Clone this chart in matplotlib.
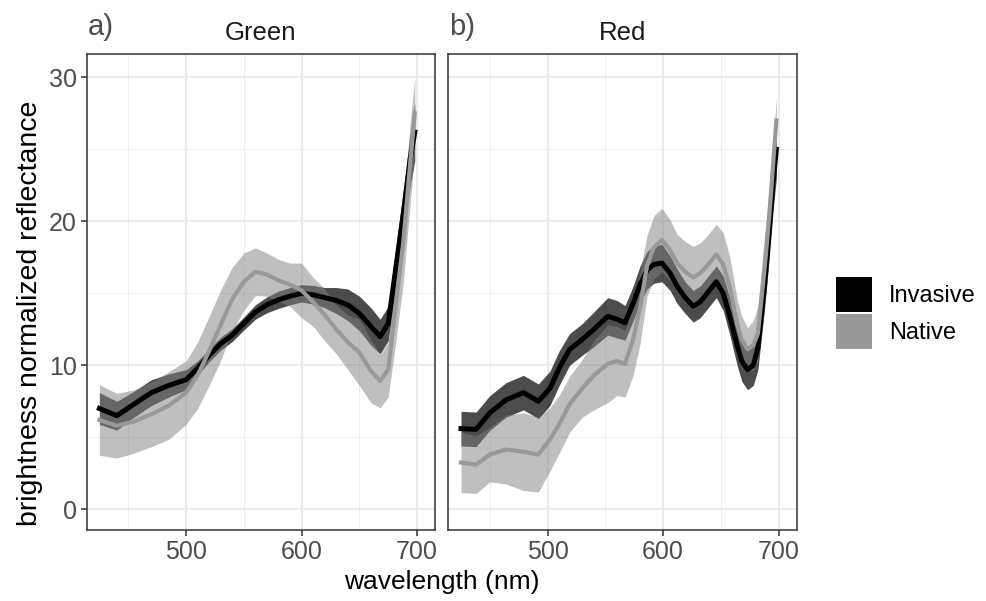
import matplotlib
matplotlib.use("Agg")
import matplotlib.pyplot as plt
from matplotlib.patches import Patch
import numpy as np

plt.rcParams['font.family'] = ['Liberation Sans', 'DejaVu Sans']

# --- Dados: painel Green ---
wl_green = [425, 440, 455, 470, 485, 500, 510, 520, 530, 540, 550, 560, 570, 580,
            590, 600, 610, 620, 630, 640, 650, 660, 668, 675, 682, 688, 694, 698]
inv_green_mean = [7.0, 6.5, 7.3, 8.1, 8.6, 9.0, 9.8, 10.7, 11.5, 12.1, 12.9, 13.7, 14.2, 14.55,
                  14.8, 15.0, 14.9, 14.7, 14.5, 14.2, 13.6, 12.7, 12.0, 12.9, 17.0, 20.5, 24.3, 26.2]
inv_green_sd = [1.1, 1.0, 0.9, 0.9, 0.8, 0.7, 0.5, 0.45, 0.45, 0.45, 0.45, 0.5, 0.55, 0.6,
                0.6, 0.6, 0.65, 0.7, 0.9, 1.1, 1.2, 1.3, 1.2, 1.2, 1.4, 1.6, 1.8, 2.0]
nat_green_mean = [6.2, 5.8, 6.1, 6.6, 7.2, 8.1, 9.3, 11.0, 12.8, 14.6, 15.8, 16.5, 16.3, 15.9,
                  15.6, 15.2, 14.4, 13.5, 12.5, 11.6, 10.9, 9.6, 8.9, 9.7, 14.5, 18.5, 24.0, 27.5]
nat_green_sd = [2.45, 2.25, 2.2, 2.25, 2.35, 2.2, 2.3, 2.4, 2.45, 2.2, 2.0, 1.65, 1.5, 1.45,
                1.5, 1.9, 1.7, 1.8, 1.7, 1.9, 2.3, 2.2, 1.85, 1.9, 2.6, 2.8, 2.8, 2.5]

# --- Dados: painel Red ---
wl_red = [425, 438, 450, 464, 479, 492, 502, 510, 519, 530, 540, 552, 560, 567, 574, 580, 586,
          592, 599, 606, 612, 619, 626, 632, 638, 646, 652, 658, 664, 668, 673, 678, 682,
          688, 692, 695, 698]
inv_red_mean = [5.6, 5.55, 6.7, 7.6, 8.1, 7.5, 8.4, 9.8, 11.1, 11.8, 12.5, 13.4, 13.2, 12.95,
                14.3, 15.6, 16.6, 17.0, 17.1, 16.4, 15.5, 14.7, 14.1, 14.4, 15.0, 15.8, 15.0,
                13.3, 11.4, 10.3, 9.7, 10.0, 11.2, 15.7, 19.5, 22.6, 25.0]
inv_red_sd = [1.2, 1.2, 1.2, 1.2, 1.2, 1.2, 1.2, 1.2, 1.1, 1.1, 1.2, 1.3, 1.3, 1.2, 1.2, 1.3,
              1.3, 1.3, 1.3, 1.2, 1.2, 1.1, 1.1, 1.1, 1.1, 1.1, 1.2, 1.3, 1.4, 1.4, 1.4, 1.4,
              1.5, 1.6, 1.8, 2.0, 2.0]
nat_red_mean = [3.25, 3.1, 3.8, 4.15, 4.0, 3.8, 4.85, 5.9, 7.3, 8.4, 9.3, 10.1, 10.3, 10.1,
                11.8, 14.0, 16.9, 18.2, 18.7, 18.0, 17.1, 16.5, 16.1, 16.4, 16.9, 17.7, 17.0,
                15.3, 12.9, 11.8, 11.1, 11.4, 12.2, 16.9, 20.5, 23.8, 27.0]
nat_red_sd = [2.1, 2.0, 1.9, 2.4, 2.7, 2.6, 2.2, 2.0, 1.95, 2.0, 2.4, 2.7, 2.4, 2.3, 2.5, 2.5,
              2.1, 2.2, 2.2, 2.1, 2.0, 2.1, 2.15, 2.1, 2.1, 2.1, 2.2, 2.1, 1.7, 1.6, 1.5, 1.7,
              1.9, 2.3, 2.0, 1.6, 1.6]

paineis = [
    ("Green", "a)", wl_green, inv_green_mean, inv_green_sd, nat_green_mean, nat_green_sd),
    ("Red", "b)", wl_red, inv_red_mean, inv_red_sd, nat_red_mean, nat_red_sd),
]

fig = plt.figure(figsize=(9.86, 6.01), dpi=100)
W, H = 986, 601

lefts = [86.7, 448.3]
top, bottom, width = 54.3, 530, 348.3

for i, (titulo, tag, wl, im, isd, nm, nsd) in enumerate(paineis):
    ax = fig.add_axes([lefts[i] / W, (H - bottom) / H, width / W, (bottom - top) / H])
    wl = np.array(wl)
    im, isd, nm, nsd = map(np.array, (im, isd, nm, nsd))

    ax.fill_between(wl, im - isd, im + isd, color="black", alpha=0.7, lw=0, zorder=2)
    ax.fill_between(wl, nm - nsd, nm + nsd, color="#808080", alpha=0.5, lw=0, zorder=3)
    ax.plot(wl, im, color="black", lw=3.6, solid_joinstyle="round", zorder=4)
    ax.plot(wl, nm, color="#999999", lw=3.0, solid_joinstyle="round", zorder=5)

    ax.set_xlim(414, 715.5)
    ax.set_ylim(-1.44, 31.6)
    ax.set_xticks([500, 600, 700])
    ax.set_xticks([450, 550, 650], minor=True)
    ax.set_yticks([0, 10, 20, 30])
    ax.set_yticks([5, 15, 25], minor=True)
    ax.grid(True, which="major", color="#ebebeb", lw=1.3, zorder=0)
    ax.grid(True, which="minor", color="#ebebeb", lw=0.6, zorder=0)
    ax.set_axisbelow(True)
    ax.tick_params(which="minor", length=0)
    ax.tick_params(which="major", length=4, width=1.1, color="#333333",
                   labelsize=18, labelcolor="#4d4d4d", pad=3)
    for s in ax.spines.values():
        s.set_color("#333333")
        s.set_linewidth(1.1)
    if i > 0:
        ax.tick_params(axis="y", left=False, labelleft=False)

    cx = (lefts[i] + width / 2) / W
    fig.text(cx, 1 - 33 / H, titulo, ha="center", va="center", fontsize=18.5, color="#1a1a1a")
    fig.text((lefts[i] + 1) / W, 1 - 27 / H, tag, ha="left", va="center", fontsize=21, color="#4d4d4d")

fig.text(30 / W, 1 - 313 / H, "brightness normalized reflectance", rotation=90,
         ha="center", va="center", fontsize=20.5)
fig.text(441.7 / W, 1 - 582 / H, "wavelength (nm)", ha="center", va="center", fontsize=19)

handles = [Patch(facecolor="black", edgecolor="none"), Patch(facecolor="#999999", edgecolor="none")]
fig.legend(handles, ["Invasive", "Native"], loc="center left", bbox_to_anchor=(835.7 / W, 1 - 313 / H),
           frameon=False, fontsize=17, handlelength=1.55, handleheight=1.9, labelspacing=0.05,
           handletextpad=0.72, borderpad=0, borderaxespad=0)

fig.savefig("out.png", dpi=100)
